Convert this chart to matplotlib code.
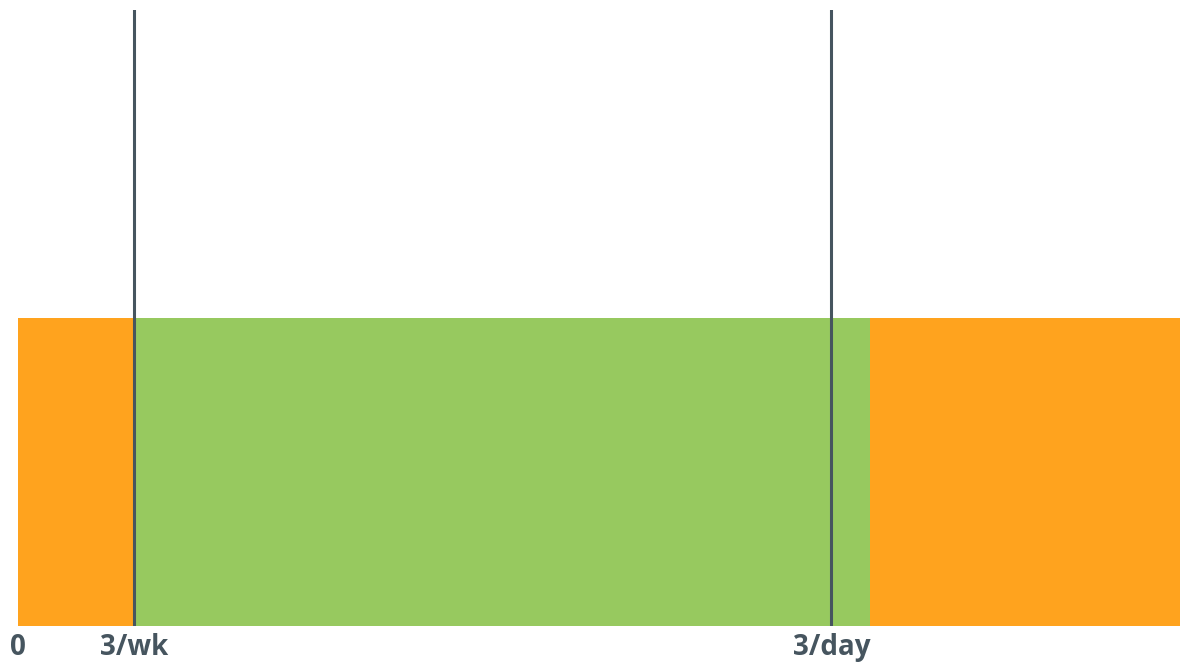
import matplotlib
matplotlib.use("Agg")
from matplotlib import pyplot

# frequency scale in sessions per week
seg_starts = [0, 3, 22]
seg_widths = [3, 19, 8]
seg_colors = ["#FFA31E", "#97C95F", "#FFA31E"]
marker_pos = [3, 21]
tick_pos = [0, 3, 21]
tick_labels = ["0", "3/wk", "3/day"]

fig = pyplot.figure(figsize=(11.89, 6.70), dpi=100)
ax = fig.add_axes([18 / 1189, 44 / 670, 1162 / 1189, 616 / 670])

ax.barh(0.5, seg_widths, left=seg_starts, height=1.0, color=seg_colors,
        edgecolor="none", align="center")
for x in marker_pos:
    ax.axvline(x, color="#46555F", linewidth=2.2)

ax.set_xlim(0, 30)
ax.set_ylim(0, 2)
ax.set_yticks([])
ax.set_xticks(tick_pos)
ax.set_xticklabels(tick_labels, fontsize=20, fontweight="bold",
                   color="#46555F", family="Open Sans")
ax.tick_params(axis="x", length=0, pad=5)
for s in ax.spines.values():
    s.set_visible(False)

fig.savefig("out.png", dpi=100)
